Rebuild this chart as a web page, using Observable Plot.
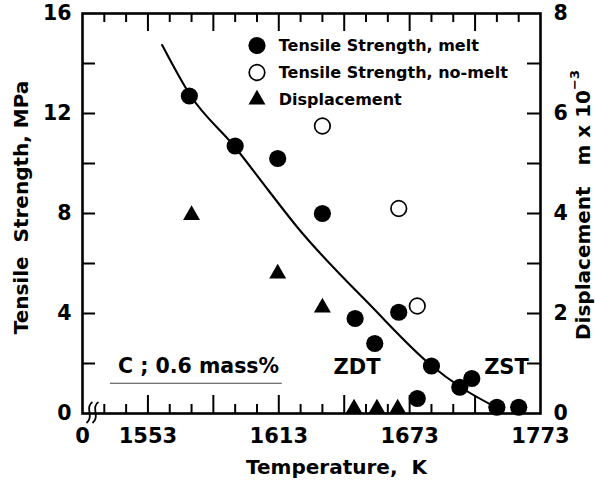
<!DOCTYPE html>
<html>
<head>
<meta charset="utf-8">
<script src="https://cdn.jsdelivr.net/npm/d3@7"></script>
<script src="https://cdn.jsdelivr.net/npm/@observablehq/plot@0.6"></script>
<style>
  html, body { margin: 0; padding: 0; background: #fff; }
  #chart svg { display: block; }
  #chart svg text { white-space: pre; }
</style>
</head>
<body>
<div id="chart"></div>
<script>
// Tensile strength (MPa) of specimens that melted during the test
const meltTemp     = [1572, 1593, 1612.5, 1633, 1648, 1657, 1668, 1676.5, 1683, 1696, 1701.5, 1713, 1723];
const meltStrength = [12.7, 10.7, 10.2, 8.0, 3.8, 2.8, 4.05, 0.6, 1.9, 1.05, 1.4, 0.25, 0.25];

// Tensile strength (MPa) of specimens that did not melt
const noMeltTemp     = [1633, 1668, 1676.5];
const noMeltStrength = [11.5, 8.2, 4.3];

// Displacement (m x 10^-3)
const dispTemp  = [1573, 1612.5, 1633, 1647.5, 1658, 1667.5];
const dispValue = [3.97, 2.8, 2.12, 0.1, 0.1, 0.1];

// Fitted strength curve for the melt series
const curveTemp     = [1559.5, 1572.5, 1592.7, 1608.3, 1621.6, 1655.1, 1683, 1695.9, 1712.8];
const curveStrength = [14.74, 12.72, 10.68, 8.92, 7.44, 4.32, 1.92, 1.08, 0.24];

// Axis ticks and their labels
const xTickValues  = [1523, 1553, 1613, 1673, 1733];
const xTickLabels  = ["0", "1553", "1613", "1673", "1773"];
const xMajorTicks  = [1553, 1583, 1613, 1643, 1673, 1703];
const xMinorTicks  = [1533, 1543, 1563, 1573, 1593, 1603, 1623, 1633, 1653, 1663, 1683, 1693, 1713, 1723];
const yTickValues  = [0, 4, 8, 12, 16];
const yTickLabels  = ["0", "4", "8", "12", "16"];
const dispTickLabels = ["0", "2", "4", "6", "8"];
const yInnerTicks  = [2, 4, 6, 8, 10, 12, 14];

// Legend and annotation text
const legendLabels = ["Tensile Strength, melt", "Tensile Strength, no-melt", "Displacement"];
const carbonNote = "C ; 0.6 mass%";
const zoneLabels = ["ZDT", "ZST"];

const melt   = meltTemp.map((t, i) => ({t, v: meltStrength[i]}));
const noMelt = noMeltTemp.map((t, i) => ({t, v: noMeltStrength[i]}));
const disp   = dispTemp.map((t, i) => ({t, d: dispValue[i]}));
const curve  = curveTemp.map((t, i) => ({t, v: curveStrength[i]}));
const legendRows = legendLabels.map((label, i) => ({label, i}));

// The displacement axis (0–8) spans the same height as the strength axis (0–16)
const dispToY = d => d * 2;

const meltStyle   = {r: 8.6, fill: "#000"};
const noMeltStyle = {r: 7.8, fill: "#fff", stroke: "#000", strokeWidth: 1.7};
const dispStyle   = {r: 6.3, symbol: "triangle", fill: "#000"};

const legendX = 1603, legendTextX = 1613, legendTop = 14.72, legendStep = 1.08;
const bold = {fontWeight: "bold"};

const xDomain = [1523, 1733], yDomain = [0, 16];
// inward tick lengths expressed in scale units (x: 210 K over 458 px, y: 16 MPa over 400 px)
const kPerPx = (xDomain[1] - xDomain[0]) / 458, mpaPerPx = (yDomain[1] - yDomain[0]) / 400;
const tickStyle = {stroke: "#000", strokeWidth: 2};
const ticksBottom = (vals, len) => Plot.ruleX(vals, {x: d => d, y1: () => yDomain[0], y2: () => yDomain[0] + len * mpaPerPx, ...tickStyle});
const ticksTop    = (vals, len) => Plot.ruleX(vals, {x: d => d, y1: () => yDomain[1], y2: () => yDomain[1] - len * mpaPerPx, ...tickStyle});
const ticksLeft   = (vals, len) => Plot.ruleY(vals, {y: d => d, x1: () => xDomain[0], x2: () => xDomain[0] + len * kPerPx, ...tickStyle});
const ticksRight  = (vals, len) => Plot.ruleY(vals, {y: d => d, x1: () => xDomain[1], x2: () => xDomain[1] - len * kPerPx, ...tickStyle});

const chart = Plot.plot({
  width: 595,
  height: 487,
  marginLeft: 82,
  marginRight: 55,
  marginTop: 13,
  marginBottom: 74,
  style: {fontFamily: "'DejaVu Sans', sans-serif", background: "#fff", color: "#000"},
  x: {domain: xDomain},
  y: {domain: yDomain},
  marks: [
    // tick labels
    Plot.axisX({anchor: "bottom", ticks: xTickValues, tickFormat: d => xTickLabels[xTickValues.indexOf(d)],
      tickSize: 0, tickPadding: 15, fontSize: 21, ...bold, label: null}),
    Plot.axisY({anchor: "left", ticks: yTickValues, tickFormat: d => yTickLabels[yTickValues.indexOf(d)],
      tickSize: 0, tickPadding: 11, fontSize: 20.5, ...bold, label: null}),
    Plot.axisY({anchor: "right", ticks: yTickValues, tickFormat: d => dispTickLabels[yTickValues.indexOf(d)],
      tickSize: 0, tickPadding: 13, fontSize: 20.5, ...bold, label: null}),

    // inward ticks on all four sides
    ticksBottom(xMajorTicks, 18),
    ticksBottom(xMinorTicks, 9),
    ticksTop(xMajorTicks, 18),
    ticksTop(xMinorTicks, 9),
    ticksLeft(yInnerTicks, 13),
    ticksRight(yInnerTicks, 13),
    Plot.frame({stroke: "#000", strokeWidth: 2.6}),

    // composition note with its underline
    Plot.ruleY([1.21], {x1: () => 1535.8, x2: () => 1614.6, stroke: "#444", strokeWidth: 1.2}),
    Plot.text([carbonNote], {x: () => 1576.2, y: () => 1.88, text: d => d, fontSize: 20.5, ...bold, textAnchor: "middle"}),
    Plot.text([zoneLabels[0]], {x: () => 1648.9, y: () => 1.86, text: d => d, fontSize: 21, ...bold, textAnchor: "middle"}),
    Plot.text([zoneLabels[1]], {x: () => 1717.4, y: () => 1.86, text: d => d, fontSize: 21, ...bold, textAnchor: "middle"}),

    // fitted curve and data
    Plot.line(curve, {x: "t", y: "v", curve: "monotone-x", stroke: "#000", strokeWidth: 2.1}),
    Plot.dot(disp, {x: "t", y: d => dispToY(d.d), ...dispStyle}),
    Plot.dot(noMelt, {x: "t", y: "v", ...noMeltStyle}),
    Plot.dot(melt, {x: "t", y: "v", ...meltStyle}),

    // legend
    Plot.dot(legendRows.slice(0, 1), {x: () => legendX, y: d => legendTop - d.i * legendStep, ...meltStyle}),
    Plot.dot(legendRows.slice(1, 2), {x: () => legendX, y: d => legendTop - d.i * legendStep, ...noMeltStyle}),
    Plot.dot(legendRows.slice(2, 3), {x: () => legendX, y: d => legendTop - d.i * legendStep, ...dispStyle}),
    Plot.text(legendRows, {x: () => legendTextX, y: d => legendTop - d.i * legendStep, text: "label",
      textAnchor: "start", fontSize: 16, ...bold})
  ]
});

const svg = d3.select(chart);
const xs = chart.scale("x"), ys = chart.scale("y");

// axis break on the temperature axis
const bx = xs.apply(1527.8), by = ys.apply(0);
[-3, 3].forEach(off => {
  svg.append("path")
    .attr("d", `M${bx + off + 3},${by - 11} C${bx + off - 5},${by - 6} ${bx + off + 5},${by + 4} ${bx + off - 3},${by + 10}`)
    .attr("fill", "none").attr("stroke", "#000").attr("stroke-width", 1.8);
});

// axis titles
const title = (sel) => sel.attr("font-family", "'DejaVu Sans', sans-serif").attr("font-weight", "bold")
  .attr("font-size", 20).attr("fill", "#000");

svg.append("text").call(title)
  .attr("text-anchor", "middle")
  .attr("x", 336.5).attr("y", 474)
  .text("Temperature,  K");

svg.append("text").call(title)
  .attr("text-anchor", "middle")
  .attr("transform", "translate(28,207.5) rotate(-90)")
  .text("Tensile  Strength, MPa");

const right = svg.append("text").call(title)
  .attr("text-anchor", "middle")
  .attr("transform", "translate(590,205) rotate(-90)");
right.append("tspan").text("Displacement   m x 10");
right.append("tspan").attr("font-size", 13).attr("dy", -11).text("\u22123");

document.getElementById("chart").appendChild(chart);
</script>
</body>
</html>
